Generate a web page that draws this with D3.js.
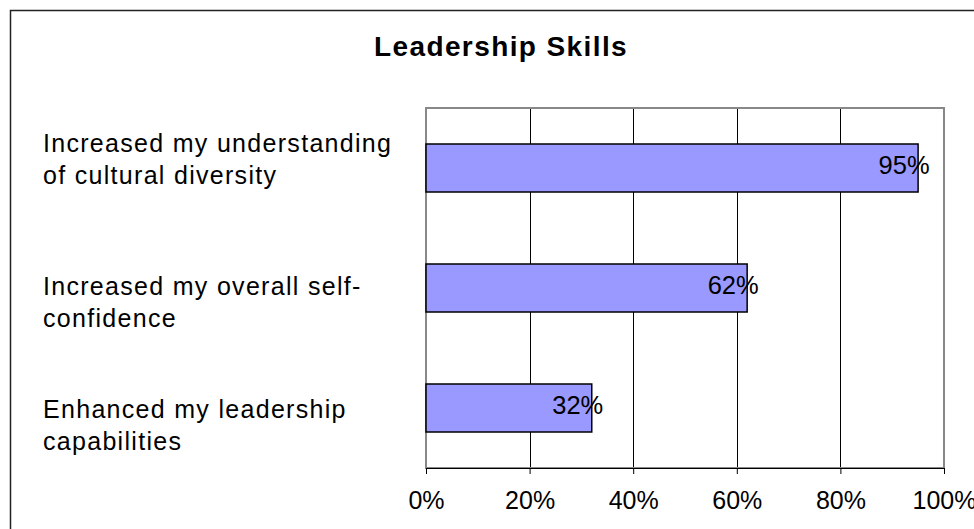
<!DOCTYPE html>
<html>
<head>
<meta charset="utf-8">
<script src="https://cdn.jsdelivr.net/npm/d3@7"></script>
<style>
  body { margin: 0; background: #fff; }
  svg { display: block; font-family: "Liberation Sans", Arial, sans-serif; }
</style>
</head>
<body>
<div id="chart"></div>
<script>
// Data
const categories = [
  ["Increased my understanding", "of cultural diversity"],
  ["Increased my overall self-", "confidence"],
  ["Enhanced my leadership", "capabilities"]
];
const values = [0.95, 0.62, 0.32];
const tickValues = [0, 0.2, 0.4, 0.6, 0.8, 1.0];
const title = "Leadership Skills";

// First label sits a bit higher than the others in the reference
const labelShift = [-23, 0, 3];

const width = 974;
const height = 529;

const plot = { left: 426, right: 944, top: 108, bottom: 468 };

const svg = d3.select("#chart")
  .append("svg")
  .attr("width", width)
  .attr("height", height);

// outer chart border
svg.append("rect")
  .attr("x", 10.5)
  .attr("y", 10.5)
  .attr("width", 990)
  .attr("height", 540)
  .style("fill", "#fff")
  .style("stroke", "#222")
  .style("stroke-width", 1.5);

// title
svg.append("text")
  .attr("x", 501)
  .attr("y", 56)
  .attr("text-anchor", "middle")
  .style("font-size", "28px")
  .style("font-weight", "bold")
  .style("letter-spacing", "1.4px")
  .text(title);

const xScale = d3.scaleLinear()
  .domain([0, 1])
  .range([plot.left, plot.right]);

const yScale = d3.scaleBand()
  .domain(d3.range(categories.length))
  .range([plot.top, plot.bottom])
  .paddingInner(0.6)
  .paddingOuter(0.3);

// gridlines
svg.selectAll(".grid")
  .data(tickValues.filter(t => t > 0 && t < 1))
  .enter()
  .append("line")
  .attr("class", "grid")
  .attr("x1", d => Math.round(xScale(d)) + 0.5)
  .attr("x2", d => Math.round(xScale(d)) + 0.5)
  .attr("y1", plot.top)
  .attr("y2", plot.bottom)
  .style("stroke", "#000")
  .style("stroke-width", 1);

// plot area border
svg.append("rect")
  .attr("x", plot.left)
  .attr("y", plot.top)
  .attr("width", plot.right - plot.left)
  .attr("height", plot.bottom - plot.top)
  .style("fill", "none")
  .style("stroke", "#888")
  .style("stroke-width", 2);

// bars
svg.selectAll(".bar")
  .data(values)
  .enter()
  .append("rect")
  .attr("class", "bar")
  .attr("x", xScale(0))
  .attr("y", (d, i) => yScale(i))
  .attr("width", d => xScale(d) - xScale(0))
  .attr("height", yScale.bandwidth())
  .style("fill", "#9999FF")
  .style("stroke", "#000")
  .style("stroke-width", 1.5);

// value labels
svg.selectAll(".value-label")
  .data(values)
  .enter()
  .append("text")
  .attr("class", "value-label")
  .attr("x", d => xScale(d) - 14)
  .attr("y", (d, i) => yScale(i) + yScale.bandwidth() / 2 + 6)
  .attr("text-anchor", "middle")
  .style("font-size", "25.5px")
  .text(d => d3.format(".0%")(d));

// x axis
const xAxis = d3.axisBottom(xScale)
  .tickValues(tickValues)
  .tickFormat(d3.format(".0%"))
  .tickSize(6)
  .tickSizeOuter(0)
  .tickPadding(35);

const axisGroup = svg.append("g")
  .attr("transform", `translate(0, ${plot.bottom})`)
  .call(xAxis);

axisGroup.select(".domain")
  .style("stroke", "#000")
  .style("stroke-width", 1);

axisGroup.selectAll(".tick line")
  .style("stroke", "#000");

axisGroup.selectAll(".tick text")
  .attr("dy", "0")
  .style("font-size", "25px")
  .style("font-family", "\"Liberation Sans\", Arial, sans-serif")
  .style("fill", "#000");

// category labels
categories.forEach((lines, i) => {
  const cy = yScale(i) + yScale.bandwidth() / 2;
  const label = svg.append("text")
    .attr("x", 43)
    .attr("y", cy + 7 + labelShift[i])
    .style("font-size", "25px")
    .style("letter-spacing", "1.3px");
  lines.forEach((line, j) => {
    label.append("tspan")
      .attr("x", 43)
      .attr("dy", j === 0 ? 0 : 31.5)
      .text(line);
  });
});
</script>
</body>
</html>
